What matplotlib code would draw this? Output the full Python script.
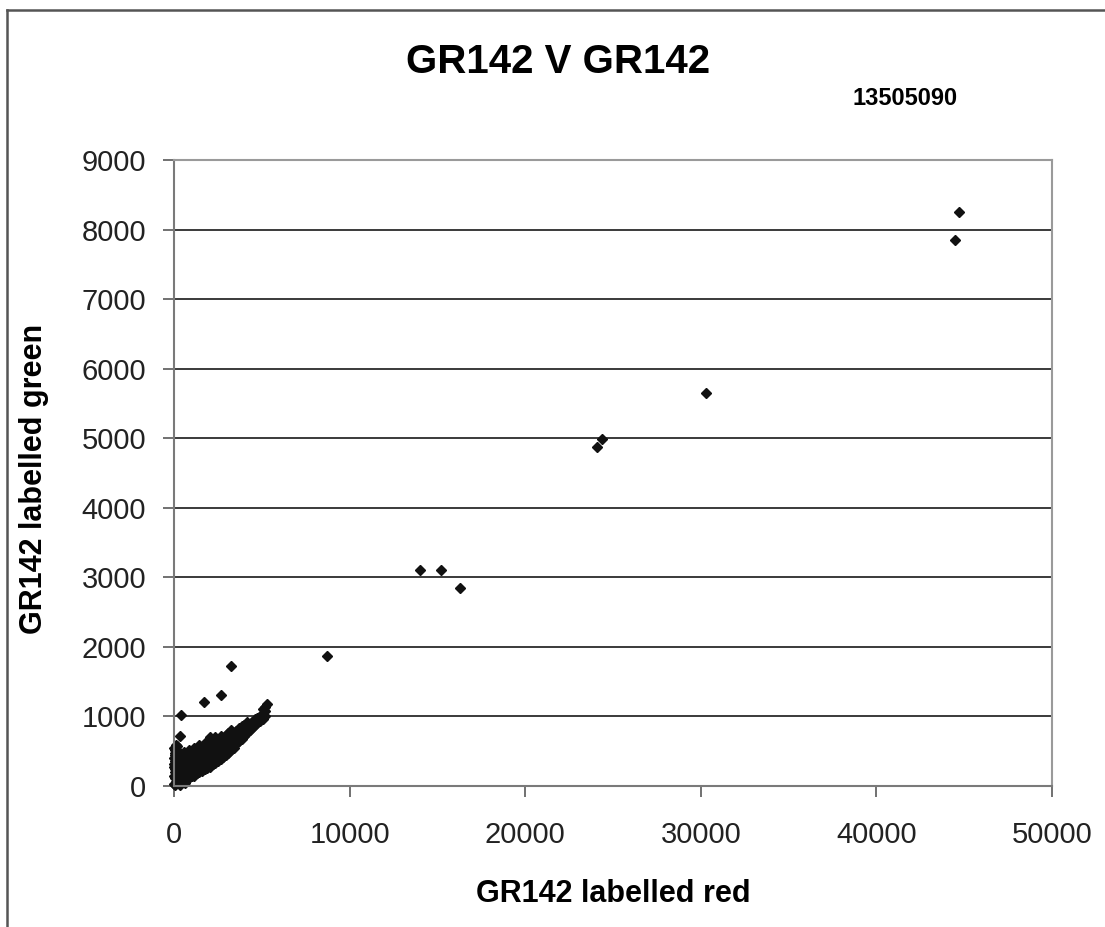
import matplotlib
matplotlib.use('Agg')
import matplotlib.pyplot as plt
from matplotlib.lines import Line2D

plt.rcParams['font.family'] = ['Liberation Sans', 'DejaVu Sans']

# outliers
x_far = [44700, 44500, 30300, 24100, 24400, 14000, 15200, 16300, 8700,
         3250, 2700, 1700, 400, 350]
y_far = [8250, 7850, 5650, 4880, 4990, 3100, 3100, 2840, 1870,
         1720, 1310, 1210, 1020, 720]

# the dense cluster near the origin (hand estimated)
x_near = [60, 120, 40, 150, 80, 30, 180, 100, 50, 160, 90, 30, 140, 70, 200, 250, 300, 220,
          20, 20, 20, 20, 20, 100, 110, 10, 60, 130, 170, 200, 150, 350, 600,
          400, 400, 400, 400, 700, 700, 700, 700, 1000, 1000, 1000, 1000,
          1300, 1300, 1300, 1300, 1600, 1600, 1600, 1600, 1900, 1900, 1900, 1900,
          2200, 2200, 2200, 2200, 2500, 2500, 2500, 2500, 2800, 2800, 2800, 2800,
          3100, 3100, 3100, 3100, 3400, 3400, 3400, 3700, 3700, 3700,
          4000, 4000, 4000, 4300, 4300, 4600, 4600, 4900, 4900,
          5200, 5200, 5200, 5300,
          250, 250, 250, 250, 550, 550, 550, 550, 550,
          850, 850, 850, 850, 850, 1150, 1150, 1150, 1150, 1150,
          1450, 1450, 1450, 1450, 1450, 1750, 1750, 1750, 1750, 1750,
          2050, 2050, 2050, 2050, 2050, 2350, 2350, 2350, 2350, 2350,
          2650, 2650, 2650, 2650, 2650, 2950, 2950, 2950, 2950,
          3250, 3250, 3250, 3250, 3550, 3550, 3550, 3850, 3850, 3850,
          4150, 4150, 4150, 4450, 4450, 4750, 4750, 5050, 5050, 5050]
y_near = [20, 60, 110, 150, 200, 250, 260, 310, 360, 380, 420, 470, 480, 520, 330, 90, 40, 180,
          30, 140, 280, 400, 540, 590, 60, 320, 440, 230, 100, 420, 580, 10, 40,
          80, 200, 320, 430, 100, 220, 340, 450, 150, 260, 370, 480,
          180, 290, 400, 520, 220, 330, 440, 560, 260, 370, 480, 610,
          310, 420, 530, 650, 360, 470, 580, 680, 420, 520, 620, 690,
          480, 580, 680, 760, 550, 650, 760, 640, 730, 830,
          720, 800, 880, 800, 890, 880, 960, 930, 1010,
          1000, 1080, 1140, 1180,
          140, 260, 380, 500, 60, 150, 270, 390, 490,
          120, 200, 300, 420, 520, 150, 230, 330, 440, 540,
          200, 270, 370, 480, 590, 240, 310, 420, 530, 620,
          280, 360, 470, 580, 700, 330, 420, 530, 630, 700,
          390, 480, 580, 680, 720, 450, 540, 640, 730,
          520, 610, 710, 800, 600, 690, 790, 680, 770, 860,
          760, 840, 920, 840, 920, 900, 980, 960, 1040, 1100]

x_ticks = [0, 10000, 20000, 30000, 40000, 50000]
y_ticks = [0, 1000, 2000, 3000, 4000, 5000, 6000, 7000, 8000, 9000]

fig = plt.figure(figsize=(11.05, 9.27), dpi=100)
ax = fig.add_axes([174 / 1105, 1 - 786 / 927, 878 / 1105, 626 / 927])

ax.plot(x_near + x_far, y_near + y_far, linestyle='none', marker='D',
        markersize=4.6, color='#111111', clip_on=False)

ax.set_xlim(0, 50000)
ax.set_ylim(0, 9000)
ax.set_xticks(x_ticks)
ax.set_yticks(y_ticks)
ax.yaxis.grid(True, color='#3a3a3a', linewidth=1.4)
ax.set_axisbelow(True)

for side in ['top', 'right']:
    ax.spines[side].set_color('#9a9a9a')
    ax.spines[side].set_linewidth(1.5)
for side in ['left', 'bottom']:
    ax.spines[side].set_color('#7a7a7a')
    ax.spines[side].set_linewidth(1.5)

ax.tick_params(axis='both', direction='out', length=8, width=1.3,
               color='#666666', labelsize=21, labelcolor='#222222')
ax.tick_params(axis='y', pad=12)
ax.tick_params(axis='x', pad=17)

ax.set_xlabel('GR142 labelled red', fontsize=22, fontweight='bold')
ax.set_ylabel('GR142 labelled green', fontsize=22, fontweight='bold')
ax.xaxis.set_label_coords(0.5, -0.1486)
ax.yaxis.set_label_coords(-0.1424, 0.49)

fig.text(0.505, 0.933, 'GR142 V GR142', fontsize=29, fontweight='bold',
         ha='center', va='center')
fig.text(0.819, 0.894, '13505090', fontsize=17, fontweight='bold',
         ha='center', va='center')

# outer chart border (left and top edges visible)
fig.add_artist(Line2D([7 / 1105, 7 / 1105], [0, 1 - 10 / 927],
                      color='#555555', linewidth=1.8))
fig.add_artist(Line2D([7 / 1105, 1], [1 - 10 / 927, 1 - 10 / 927],
                      color='#555555', linewidth=1.8))

fig.savefig('out.png', dpi=100)
